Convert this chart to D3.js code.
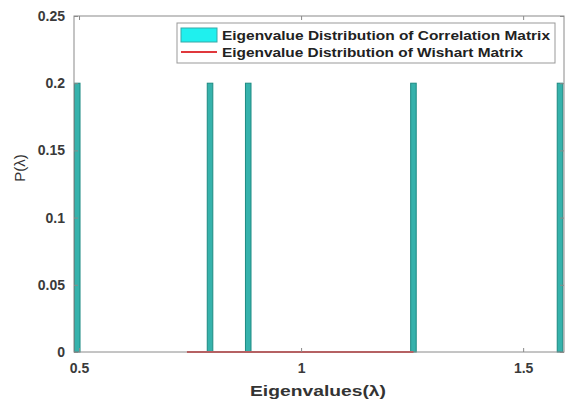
<!DOCTYPE html>
<html>
<head>
<meta charset="utf-8">
<script src="https://cdn.jsdelivr.net/npm/d3@7"></script>
<style>
  body { margin: 0; background: #fff; }
  text { font-family: "Liberation Sans", Arial, sans-serif; }
</style>
</head>
<body>
<div id="chart"></div>
<script>
// eigenvalues of the correlation matrix and their probabilities
var eigenvalues = [0.496, 0.795, 0.881, 1.253, 1.583];
var probs = [0.2, 0.2, 0.2, 0.2, 0.2];
// wishart curve (flat at zero over its support)
var wishartX = [0.743, 0.85, 1.0, 1.15, 1.253];
var wishartY = [0, 0, 0, 0, 0];
var xTicks = [0.5, 1, 1.5];
var yTicks = [0, 0.05, 0.1, 0.15, 0.2, 0.25];
var legendLabels = ["Eigenvalue Distribution of Correlation Matrix",
                    "Eigenvalue Distribution of Wishart Matrix"];
var legendLens = [328, 301];

var W = 568, H = 405;
var margin = {top: 16, right: 4, bottom: 53, left: 74};
var width = W - margin.left - margin.right,
    height = H - margin.top - margin.bottom;
var binW = 0.0125;

var svg = d3.select('#chart')
  .append('svg')
  .attr('width', W)
  .attr('height', H)
  .append('g')
  .attr('transform', 'translate(' + margin.left + ',' + margin.top + ')');

var x = d3.scaleLinear().domain([0.4887, 1.592]).range([0, width]);
var y = d3.scaleLinear().domain([0, 0.25]).range([height, 0]);

// bars
svg.selectAll('.bar')
  .data(eigenvalues)
  .enter()
  .append('rect')
    .attr('x', function(d) { return x(d - binW / 2); })
    .attr('width', function(d) { return x(d + binW / 2) - x(d - binW / 2); })
    .attr('y', function(d, i) { return y(probs[i]); })
    .attr('height', function(d, i) { return height - y(probs[i]); })
    .style('fill', '#36b2ac')
    .style('stroke', '#1d8a82')
    .style('stroke-width', 1);

// wishart line
var line = d3.line()
  .x(function(d, i) { return x(d); })
  .y(function(d, i) { return y(wishartY[i]); });
svg.append('path')
  .datum(wishartX)
  .attr('d', line)
  .style('fill', 'none')
  .style('stroke', '#e0383c')
  .style('stroke-width', 2);

// axes (box with inward ticks)
var axisColor = '#8a8a8a';
function styleAxis(g) {
  g.select('.domain').remove();
  g.selectAll('.tick line').attr('stroke', axisColor);
  g.selectAll('.tick text')
    .style('font-size', '14px')
    .style('font-weight', 'bold')
    .style('fill', '#3a3a3a');
}
svg.append('g')
  .attr('transform', 'translate(0,' + height + ')')
  .call(d3.axisBottom(x).tickValues(xTicks).tickFormat(d3.format('')).tickSize(-4).tickPadding(11))
  .call(styleAxis);
svg.append('g')
  .call(d3.axisTop(x).tickValues(xTicks).tickFormat('').tickSize(-4))
  .call(styleAxis);
svg.append('g')
  .call(d3.axisLeft(y).tickValues(yTicks).tickFormat(d3.format('')).tickSize(-4).tickPadding(9))
  .call(styleAxis);
svg.append('g')
  .attr('transform', 'translate(' + width + ',0)')
  .call(d3.axisRight(y).tickValues(yTicks).tickFormat('').tickSize(-4))
  .call(styleAxis);
svg.append('rect')
  .attr('width', width).attr('height', height)
  .style('fill', 'none').style('stroke', axisColor).style('stroke-width', 1);

// axis labels
svg.append('text')
  .attr('x', 250 - margin.left).attr('y', height + 44)
  .attr('textLength', 136).attr('lengthAdjust', 'spacingAndGlyphs')
  .style('font-size', '15px').style('font-weight', 'bold').style('fill', '#333')
  .text('Eigenvalues(\u03bb)');
svg.append('text')
  .attr('transform', 'translate(-49,' + (152) + ') rotate(-90)')
  .attr('text-anchor', 'middle')
  .style('font-size', '15px').style('fill', '#333')
  .text('P(\u03bb)');

// legend
var legend = svg.append('g').attr('transform', 'translate(' + (177 - margin.left) + ',' + (23 - margin.top) + ')');
legend.append('rect')
  .attr('width', 378).attr('height', 40)
  .style('fill', '#fff').style('stroke', '#999');
legend.append('rect')
  .attr('x', 4).attr('y', 5).attr('width', 36).attr('height', 14)
  .style('fill', '#1ff0ee').style('stroke', '#38a8a8');
legend.append('line')
  .attr('x1', 4).attr('x2', 40).attr('y1', 29).attr('y2', 29)
  .style('stroke', '#e0383c').style('stroke-width', 2);
legend.selectAll('.lt')
  .data(legendLabels)
  .enter()
  .append('text')
    .attr('x', 45)
    .attr('y', function(d, i) { return 17 + i * 17; })
    .attr('textLength', function(d, i) { return legendLens[i]; })
    .attr('lengthAdjust', 'spacingAndGlyphs')
    .style('font-size', '13px').style('font-weight', 'bold').style('fill', '#222')
    .text(function(d) { return d; });
</script>
</body>
</html>
